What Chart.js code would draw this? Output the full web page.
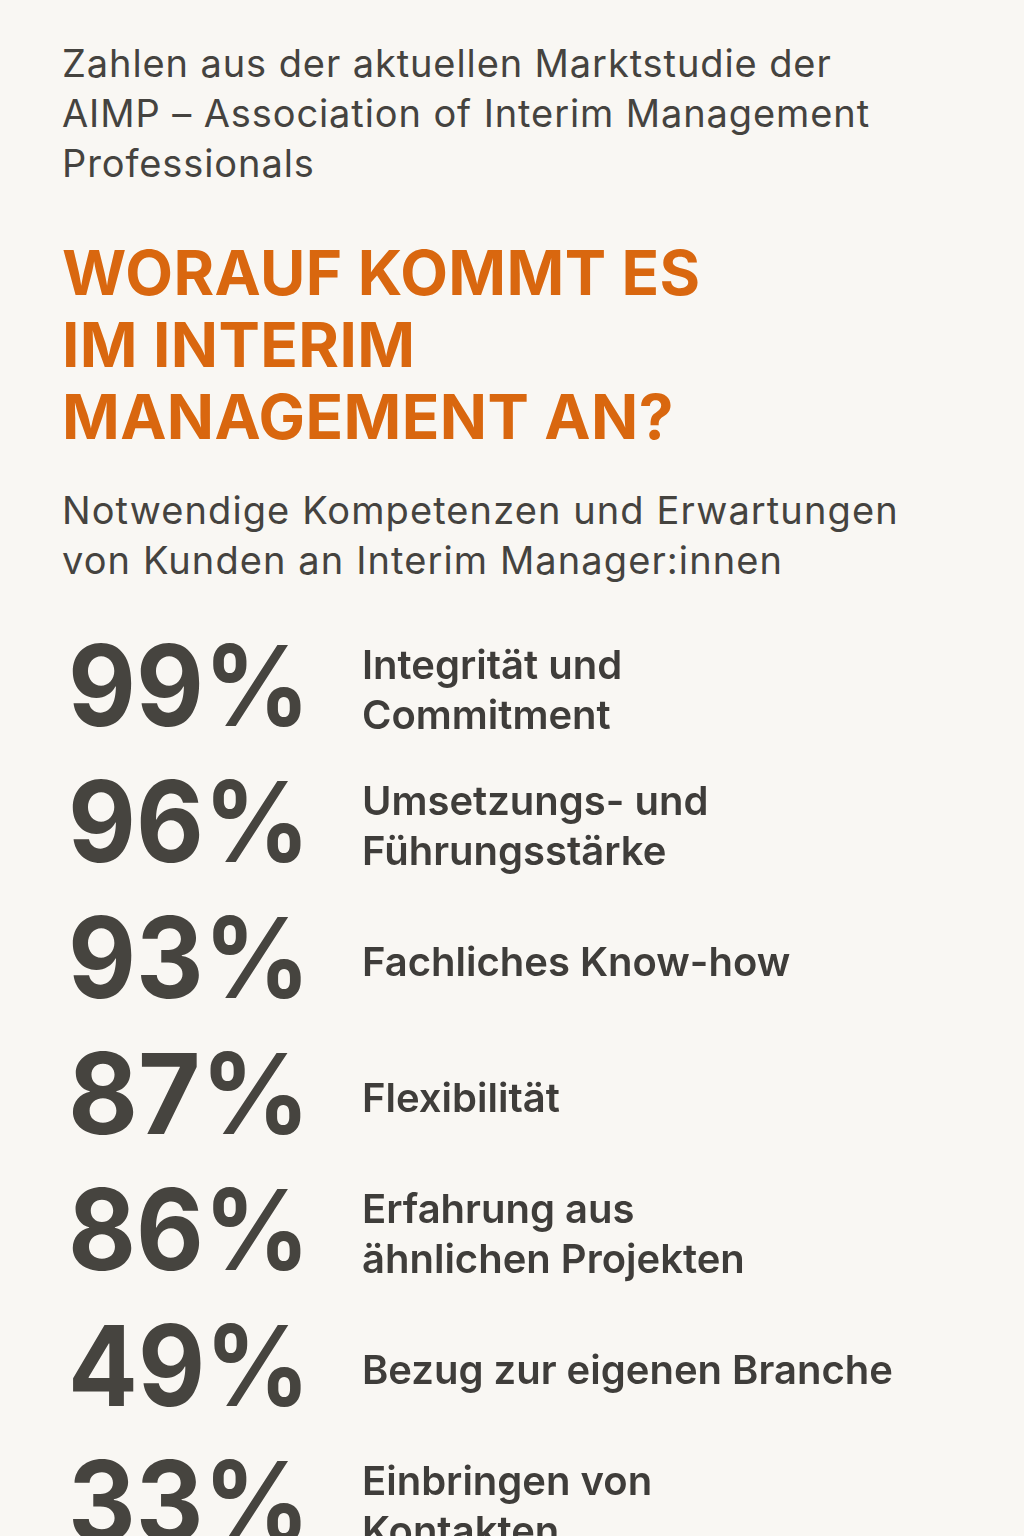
<!DOCTYPE html>
<html>
<head>
<meta charset="utf-8">
<script src="https://cdn.jsdelivr.net/npm/chart.js@4"></script>
<style>
  body { margin:0; width:1024px; height:1536px; overflow:hidden; background:#f9f7f3; font-family:Inter, "Noto Sans", sans-serif; position:relative; }
  .intro { position:absolute; left:62px; top:38px; font-size:38px; line-height:50px; color:#45433f; letter-spacing:0.9px; }
  h1 { position:absolute; left:62px; top:237px; margin:0; font-size:62px; line-height:72px; font-weight:700; color:#d9670f; letter-spacing:0.4px; }
  .sub { position:absolute; left:62px; top:485px; font-size:38px; line-height:50px; color:#45433f; letter-spacing:1.1px; }
  .wrap { position:absolute; left:0; top:622px; width:1024px; height:952px; }
</style>
</head>
<body>
<div class="intro">Zahlen aus der aktuellen Marktstudie der<br>AIMP – Association of Interim Management<br>Professionals</div>
<h1>WORAUF KOMMT ES<br>IM INTERIM<br>MANAGEMENT AN?</h1>
<div class="sub">Notwendige Kompetenzen und Erwartungen<br>von Kunden an Interim Manager:innen</div>
<div class="wrap"><canvas id="c"></canvas></div>
<script>
const categories = [
  ['Integrität und', 'Commitment'],
  ['Umsetzungs- und', 'Führungsstärke'],
  ['Fachliches Know-how'],
  ['Flexibilität'],
  ['Erfahrung aus', 'ähnlichen Projekten'],
  ['Bezug zur eigenen Branche'],
  ['Einbringen von', 'Kontakten']
];
const percents = [99, 96, 93, 87, 86, 49, 33];

const statText = {
  id: 'statText',
  afterDatasetsDraw(chart) {
    const ctx = chart.ctx;
    const y = chart.scales.y;
    ctx.save();
    ctx.textBaseline = 'middle';
    percents.forEach((p, i) => {
      const cy = y.getPixelForValue(i);
      ctx.fillStyle = '#46443f';
      ctx.font = '700 112px Inter, "Noto Sans", sans-serif';
      ctx.textAlign = 'center';
      const txt = p + '%';
      const w = ctx.measureText(txt).width;
      ctx.save();
      ctx.translate(189, cy + 2);
      ctx.scale(242 / w, 1);
      ctx.fillText(txt, 0, 0);
      ctx.restore();
      ctx.fillStyle = '#3f3d3a';
      ctx.font = '600 40px Inter, "Noto Sans", sans-serif';
      ctx.textAlign = 'left';
      const lines = categories[i];
      lines.forEach((l, k) => {
        ctx.fillText(l, 362, cy + 2 + (k - (lines.length - 1) / 2) * 50);
      });
    });
    ctx.restore();
  }
};

new Chart(document.getElementById('c'), {
  type: 'bar',
  data: {
    labels: categories.map(c => c.join(' ')),
    datasets: [{ data: percents, backgroundColor: 'rgba(0,0,0,0)', borderWidth: 0 }]
  },
  options: {
    indexAxis: 'y',
    responsive: true,
    maintainAspectRatio: false,
    animation: false,
    layout: { padding: 0 },
    plugins: { legend: { display: false }, tooltip: { enabled: false } },
    scales: {
      x: { display: false, min: 0, max: 100 },
      y: { display: false, offset: true }
    }
  },
  plugins: [statText]
});
</script>
</body>
</html>
